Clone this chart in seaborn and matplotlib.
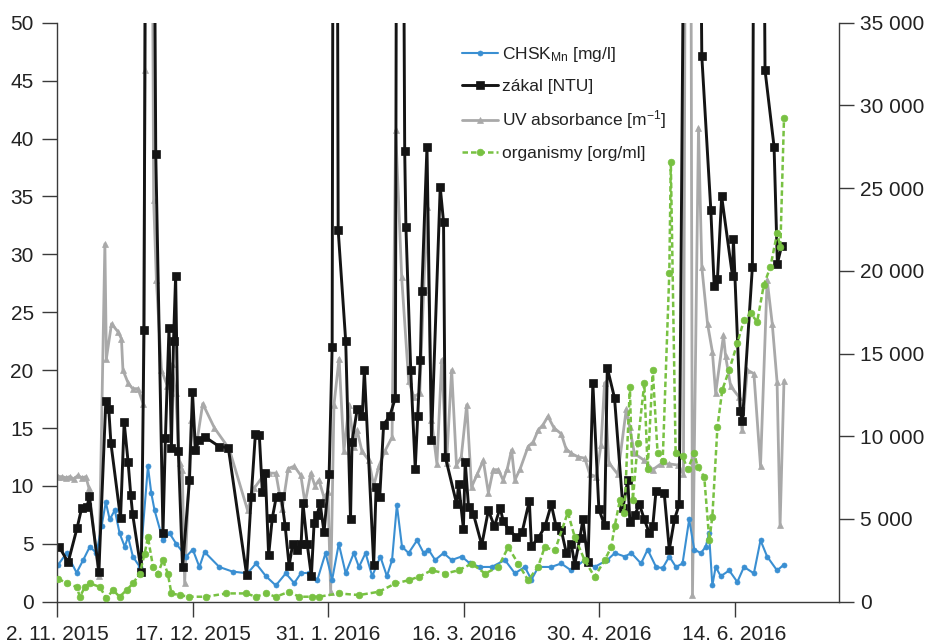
import matplotlib
matplotlib.use("Agg")
import matplotlib.pyplot as plt
from matplotlib.ticker import FuncFormatter, MultipleLocator
import pandas as pd
import seaborn as sns

START = pd.Timestamp("2015-11-02")

# days after 2. 11. 2015
chsk_days = [0.3, 3.1, 6.4, 8.6, 10.8, 13.0, 14.7, 16.1, 17.4, 19.1,
             20.7, 22.4, 23.5, 25.1, 27.4, 30.1, 31.2, 32.3, 35.1, 37.3,
             39.5, 42.8, 45.0, 47.2, 48.9, 53.8, 58.2, 63.2, 66.0, 69.3,
             72.6, 75.9, 78.7, 80.9, 83.6, 86.4, 89.1, 91.3, 93.5, 95.8,
             98.5, 100.2, 102.4, 104.6, 107.3, 109.5, 111.2, 112.8, 114.5, 116.7,
             119.5, 121.7, 123.3, 125.5, 128.3, 131.0, 134.3, 137.1, 140.4, 144.3,
             148.7, 152.0, 155.3, 157.5, 159.8, 164.1, 167.4, 170.7, 175.2, 178.5,
             182.7, 185.2, 188.5, 190.7, 193.9, 196.1, 198.9, 201.1, 203.3, 205.5,
             207.7, 209.9, 211.6, 213.8, 215.4, 216.5, 217.6, 218.7, 220.4, 223.2,
             225.9, 228.1, 231.4, 233.6, 235.8, 239.1, 241.4]
chsk_vals = [3.2, 4.2, 2.5, 3.6, 4.75, 4.2, 6.5, 8.6, 7.1, 7.9,
             5.9, 4.75, 5.6, 3.9, 3.0, 11.7, 9.4, 7.9, 5.3, 5.9,
             5.0, 3.9, 4.5, 3.0, 4.3, 3.0, 2.6, 2.45, 3.3, 2.2,
             1.4, 2.45, 1.6, 2.45, 2.5, 1.9, 4.2, 1.9, 5.0, 2.45,
             4.2, 3.0, 4.2, 2.2, 3.9, 2.2, 3.6, 8.35, 4.75, 4.2,
             5.3, 4.2, 4.5, 3.6, 4.2, 3.6, 3.9, 3.3, 3.0, 3.0,
             3.6, 2.45, 3.0, 1.9, 3.0, 3.0, 3.3, 2.7, 3.6, 3.0,
             3.6, 4.2, 3.9, 4.2, 3.3, 4.5, 3.0, 2.9, 3.9, 3.0,
             3.3, 7.1, 4.5, 4.2, 4.75, 5.9, 1.4, 3.0, 2.2, 2.7,
             1.7, 3.0, 2.45, 5.3, 3.9, 2.7, 3.2]

# zákal; 150 = off the top of the chart
zakal_days = [0.7, 3.6, 6.6, 8.1, 9.9, 10.6, 13.8, 16.1, 17.1, 17.8,
              21.0, 22.2, 23.5, 24.4, 25.0, 27.9, 28.8, 30.3, 32.7, 35.1,
              35.9, 37.1, 37.9, 38.6, 39.3, 40.2, 41.6, 43.9, 44.9, 45.9,
              47.2, 49.2, 53.8, 56.8, 62.9, 64.4, 65.8, 67.1, 68.1, 69.1,
              70.2, 71.4, 72.7, 74.4, 75.7, 77.0, 78.2, 79.6, 81.0, 81.6,
              83.0, 84.4, 85.3, 86.3, 87.3, 88.6, 90.3, 91.3, 92.2, 93.3,
              95.8, 97.4, 97.9, 99.6, 101.3, 102.0, 105.1, 105.9, 107.1, 108.4,
              110.4, 112.3, 113.4, 115.4, 115.8, 117.4, 118.9, 119.7, 120.6, 121.1,
              122.8, 124.3, 127.2, 128.3, 128.9, 132.7, 133.3, 134.9, 135.5, 136.6,
              138.2, 141.0, 143.2, 145.2, 147.1, 148.1, 150.0, 152.5, 154.4, 156.8,
              157.5, 159.8, 162.0, 164.1, 165.7, 167.4, 169.1, 170.7, 171.9, 173.6,
              174.6, 176.3, 177.9, 179.9, 181.8, 182.7, 185.1, 187.9, 189.5, 190.2,
              191.8, 193.4, 195.0, 196.7, 197.8, 198.9, 201.6, 203.3, 205.0, 206.6,
              210.7, 214.1, 217.1, 218.2, 219.3, 220.7, 224.3, 224.6, 226.9, 227.6,
              230.9, 232.5, 235.1, 238.1, 239.2, 240.6]
zakal_vals = [4.7, 3.4, 6.4, 8.1, 8.2, 9.1, 2.6, 17.3, 16.6, 13.7,
              7.2, 15.5, 12.1, 9.2, 7.6, 2.6, 23.5, 150, 38.7, 5.9,
              14.1, 23.6, 13.3, 22.5, 28.1, 13.0, 3.0, 10.5, 18.1, 13.1,
              14.0, 14.2, 13.4, 13.3, 2.3, 9.0, 14.5, 14.4, 9.5, 11.1,
              4.0, 7.2, 9.0, 9.1, 6.5, 3.1, 5.0, 4.5, 5.0, 8.5,
              5.0, 2.2, 6.8, 7.5, 8.5, 6.0, 11.0, 22.0, 150, 32.1,
              22.5, 7.1, 13.8, 16.6, 16.0, 20.0, 3.2, 9.9, 9.0, 15.3,
              16.0, 17.6, 150, 38.9, 32.4, 20.0, 11.5, 16.0, 20.9, 26.8,
              39.3, 14.0, 35.8, 32.8, 12.5, 8.4, 10.2, 6.3, 12.1, 8.2,
              7.6, 4.9, 7.9, 6.5, 8.1, 7.0, 6.2, 5.6, 6.0, 8.7,
              4.8, 5.5, 6.5, 8.4, 6.5, 6.2, 4.2, 5.0, 3.2, 5.5,
              7.1, 3.4, 18.9, 8.0, 6.6, 20.2, 17.6, 8.1, 10.5, 6.9,
              7.5, 8.4, 7.1, 5.9, 6.5, 9.6, 9.4, 4.5, 7.1, 8.4,
              150, 47.1, 33.8, 27.3, 27.9, 35.0, 28.1, 31.3, 16.5, 15.6,
              28.9, 150, 45.9, 39.3, 29.2, 30.7]

uv_days = [0.1, 1.6, 2.9, 4.2, 5.5, 6.8, 8.2, 9.5, 10.5, 13.8,
           15.8, 16.3, 18.0, 20.2, 21.3, 21.8, 23.5, 25.0, 26.8, 28.5,
           29.2, 30.0, 32.0, 32.9, 34.6, 36.6, 38.0, 39.3, 40.6, 41.5,
           42.3, 44.5, 45.9, 48.3, 52.2, 57.1, 63.2, 65.4, 68.2, 70.4,
           72.6, 74.7, 76.7, 78.7, 80.9, 82.3, 84.2, 85.6, 86.9, 88.6,
           89.9, 90.8, 91.9, 93.6, 95.2, 96.9, 98.5, 99.6, 101.2, 103.5,
           105.1, 106.8, 108.8, 111.2, 112.4, 114.4, 116.7, 118.4, 120.4, 121.7,
           122.8, 124.3, 126.1, 127.7, 129.3, 131.0, 132.6, 134.2, 136.0, 137.6,
           139.5, 141.5, 143.2, 144.8, 146.5, 148.1, 149.5, 150.9, 152.0, 153.8,
           156.4, 158.1, 159.7, 161.4, 163.0, 165.0, 167.4, 169.0, 170.8, 173.0,
           175.2, 176.9, 179.0, 180.6, 181.8, 183.2, 186.2, 189.0, 190.1, 191.7,
           195.0, 197.8, 200.5, 203.3, 206.1, 208.0, 209.7, 211.0, 213.0, 214.1,
           216.0, 217.6, 218.7, 221.3, 222.0, 223.7, 226.4, 227.5, 229.2, 231.4,
           233.6, 235.8, 237.5, 239.1, 240.1, 241.4]
uv_vals = [10.8, 10.8, 10.7, 10.8, 10.6, 10.9, 10.7, 10.8, 9.8, 2.2,
           30.9, 21.0, 24.0, 23.3, 22.7, 20.0, 18.9, 18.4, 18.4, 17.1,
           45.9, 150, 34.7, 27.8, 20.0, 18.6, 20.5, 18.0, 12.0, 11.4,
           1.6, 15.7, 13.0, 17.1, 15.0, 13.2, 7.9, 9.8, 10.8, 11.1,
           11.1, 8.0, 11.5, 11.7, 10.9, 8.5, 11.1, 10.0, 10.5, 9.0,
           9.5, 0.8, 17.0, 21.0, 13.0, 17.0, 13.4, 14.8, 13.0, 12.2,
           10.0, 11.7, 13.0, 14.2, 40.7, 28.0, 19.1, 17.7, 18.0, 26.9,
           34.1, 15.7, 11.9, 20.9, 12.0, 20.0, 11.8, 12.5, 17.0, 9.9,
           11.0, 12.2, 9.4, 11.4, 11.4, 10.5, 11.5, 13.1, 10.5, 11.5,
           13.4, 13.8, 14.8, 15.3, 16.0, 15.0, 14.5, 13.2, 12.8, 12.5,
           12.4, 11.0, 10.8, 13.5, 18.9, 12.0, 11.0, 16.6, 15.1, 12.8,
           12.2, 11.4, 11.9, 11.9, 11.8, 11.0, 150, 0.6, 40.9, 28.9,
           24.0, 21.6, 18.0, 23.0, 21.2, 18.6, 17.7, 14.8, 20.0, 19.7,
           11.7, 27.8, 24.0, 19.0, 6.6, 19.1]

org_days = [0.3, 3.1, 6.4, 7.5, 9.2, 10.8, 14.1, 16.3, 18.5, 20.7,
            23.0, 25.1, 27.4, 29.0, 30.1, 31.8, 33.4, 35.1, 36.7, 37.9,
            40.6, 43.9, 49.4, 56.1, 62.7, 66.0, 69.3, 72.6, 77.0, 80.3,
            84.7, 86.9, 93.5, 100.2, 106.8, 112.3, 116.7, 120.0, 124.4, 128.9,
            133.3, 137.7, 142.1, 146.5, 149.8, 153.1, 156.4, 159.7, 161.9, 165.3,
            169.6, 171.9, 175.2, 178.5, 181.8, 184.0, 185.2, 186.9, 188.4, 190.2,
            191.2, 192.8, 195.0, 196.1, 197.8, 199.4, 201.1, 203.3, 203.8, 205.4,
            207.7, 209.4, 211.6, 212.7, 214.9, 216.6, 217.6, 219.3, 220.9, 223.2,
            225.9, 228.1, 230.3, 232.5, 234.7, 236.9, 239.1, 240.2, 241.4]
org_vals = [1400, 1100, 900, 300, 900, 1100, 900, 200, 700, 300,
            700, 1100, 1700, 2900, 3900, 2100, 1700, 2500, 1700, 500,
            400, 300, 300, 500, 500, 300, 500, 300, 600, 300,
            300, 300, 500, 400, 600, 1100, 1300, 1500, 1900, 1700,
            1900, 2300, 1700, 2100, 3300, 2300, 1300, 2100, 3300, 3100,
            5400, 3900, 2500, 1500, 2500, 3300, 4600, 6150, 5340, 13000,
            6150, 9575, 13200, 8000, 14000, 9000, 8500, 19850, 26600, 9000,
            8800, 8000, 8970, 8160, 7560, 3700, 5140, 10580, 12800, 14000,
            15620, 17030, 17430, 16930, 19150, 20250, 22270, 21460, 29220]

tick_dates = ["2015-11-02", "2015-12-17", "2016-01-31",
              "2016-03-16", "2016-04-30", "2016-06-14"]
tick_labels = ["2. 11. 2015", "17. 12. 2015", "31. 1. 2016",
               "16. 3. 2016", "30. 4. 2016", "14. 6. 2016"]

labels = {
    "chsk": "CHSK$_{Mn}$ [mg/l]",
    "zakal": "zákal [NTU]",
    "uv": "UV absorbance [m$^{\u2212 1}$]",
    "org": "organismy [org/ml]",
}


def series(days, vals):
    return pd.DataFrame({"date": START + pd.to_timedelta(days, unit="D"),
                         "value": vals})


sns.set_style("ticks")
plt.rcParams["font.family"] = ["Liberation Sans", "DejaVu Sans"]
plt.rcParams["mathtext.default"] = "regular"

fig = plt.figure(figsize=(9.29, 6.44), dpi=100)
ax = fig.add_axes([0.0617, 0.0657, 0.8418, 0.899])
ax2 = ax.twinx()

grey, black, blue, green = "#a9a9a9", "#141414", "#3a8fd2", "#78c142"

sns.lineplot(data=series(uv_days, uv_vals), x="date", y="value", ax=ax,
             color=grey, linewidth=2.0, marker="^", markersize=5,
             markeredgecolor=grey, markeredgewidth=0.5, errorbar=None,
             label=labels["uv"])
sns.lineplot(data=series(chsk_days, chsk_vals), x="date", y="value", ax=ax,
             color=blue, linewidth=1.5, marker="o", markersize=3.6,
             markeredgecolor=blue, markeredgewidth=0.5, errorbar=None,
             label=labels["chsk"])
sns.lineplot(data=series(zakal_days, zakal_vals), x="date", y="value", ax=ax,
             color=black, linewidth=2.1, marker="s", markersize=6,
             markeredgecolor=black, markeredgewidth=0.5, errorbar=None,
             label=labels["zakal"])
sns.lineplot(data=series(org_days, org_vals), x="date", y="value", ax=ax2,
             color=green, linewidth=1.8, linestyle=(0, (2.2, 1.2)),
             marker="o", markersize=4.8, markeredgecolor=green,
             markeredgewidth=0.5, errorbar=None, label=labels["org"])

ax.set_ylim(0, 50)
ax2.set_ylim(0, 35000)
ax.set_xlim(pd.Timestamp("2015-11-02"), pd.Timestamp("2016-07-18 19:00"))
ax.yaxis.set_major_locator(MultipleLocator(5))
ax2.yaxis.set_major_locator(MultipleLocator(5000))
ax2.yaxis.set_major_formatter(
    FuncFormatter(lambda v, p: f"{int(v):,}".replace(",", " ")))
ax.set_xticks(pd.to_datetime(tick_dates))
ax.set_xticklabels(tick_labels)
ax.set_xlabel("")
ax.set_ylabel("")
ax2.set_ylabel("")

spine_col = "#3a3a3a"
for s in ["top", "right"]:
    ax.spines[s].set_visible(False)
for s in ["top", "left", "bottom"]:
    ax2.spines[s].set_visible(False)
for a in (ax, ax2):
    for sp in a.spines.values():
        sp.set_color(spine_col)
        sp.set_linewidth(1.0)

ax.tick_params(axis="y", direction="out", length=11, width=1, colors=spine_col,
               labelcolor="#222222", labelsize=15, pad=6)
ax.tick_params(axis="x", direction="out", length=11, width=1, colors=spine_col,
               labelcolor="#222222", labelsize=15, pad=6)
ax2.tick_params(axis="y", direction="out", length=11, width=1, colors=spine_col,
                labelcolor="#222222", labelsize=15, pad=4)

# one legend, on the twin axes, in the reference order
h1, l1 = ax.get_legend_handles_labels()
h2, l2 = ax2.get_legend_handles_labels()
ax.get_legend().remove()
ax2.get_legend().remove()
found = dict(zip(l1 + l2, h1 + h2))
order = [labels["chsk"], labels["zakal"], labels["uv"], labels["org"]]
leg = ax2.legend([found[k] for k in order], order, loc="upper left",
                 bbox_to_anchor=(0.517, 0.962), frameon=False, fontsize=12.5,
                 handlelength=2.1, handletextpad=0.2, labelspacing=0.85,
                 borderaxespad=0, borderpad=0)
for t in leg.get_texts():
    t.set_color("#222222")

fig.savefig("out.png", dpi=100)
